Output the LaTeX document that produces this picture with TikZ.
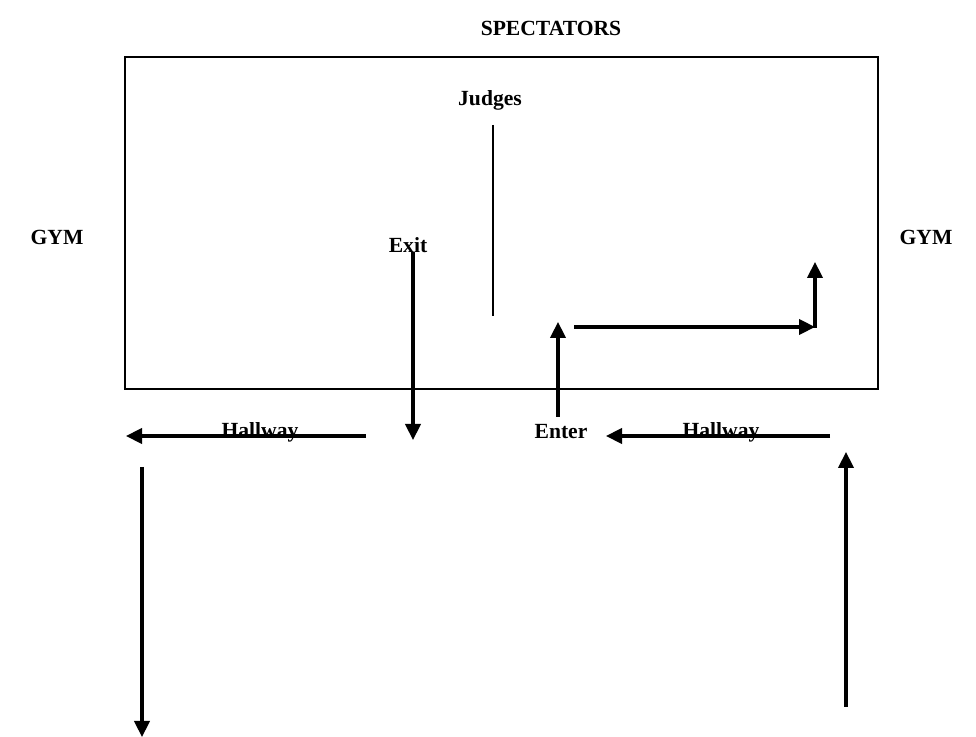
\documentclass[tikz,border=0pt]{standalone}
\usepackage{fontspec}
\setmainfont{Liberation Serif}
\usetikzlibrary{arrows.meta}

\begin{document}
\begin{tikzpicture}[x=0.75pt, y=-0.75pt,
    lbl/.style={inner sep=0pt, anchor=base, font=\fontsize{16.2}{19}\selectfont\bfseries},
    wall/.style={line width=1.3pt},
    arrow/.style={-{Triangle[length=12pt, width=11.5pt]}, line width=2.3pt}]

    \useasboundingbox (0,0) rectangle (976,737);

    % gym floor
    \draw[wall] (125,57) rectangle (878,389);
    \draw[line width=1.2pt] (493,125) -- (493,316);

    % labels
    \node[lbl] (spect) at (551,36) {SPECTATORS};
    \node[lbl] (judges) at (490,106) {Judges};
    \node[lbl] (gymL) at (57,245) {GYM};
    \node[lbl] (gymR) at (926,245) {GYM};
    \node[lbl] (exit) at (408,253) {Exit};
    \node[lbl] (hallL) at (260,438) {Hallway};
    \node[lbl] (enter) at (561,439) {Enter};
    \node[lbl] (hallR) at (721,438) {Hallway};

    % route points
    \coordinate (exitA) at (413,252);
    \coordinate (exitB) at (413,440);
    \coordinate (hallLA) at (366,436);
    \coordinate (hallLB) at (126,436);
    \coordinate (outA) at (142,467);
    \coordinate (outB) at (142,737);
    \coordinate (inA) at (846,707);
    \coordinate (inB) at (846,452);
    \coordinate (hallRA) at (830,436);
    \coordinate (hallRB) at (606,436);
    \coordinate (enterA) at (558,417);
    \coordinate (enterB) at (558,322);
    \coordinate (runA) at (574,327);
    \coordinate (runB) at (815,327);
    \coordinate (turn) at (815,328);
    \coordinate (turnB) at (815,262);

    \draw[arrow] (exitA) -- (exitB);
    \draw[arrow] (hallLA) -- (hallLB);
    \draw[arrow] (outA) -- (outB);
    \draw[arrow] (inA) -- (inB);
    \draw[arrow] (hallRA) -- (hallRB);
    \draw[arrow] (enterA) -- (enterB);
    \draw[arrow] (runA) -- (runB);
    \draw[arrow] (turn) -- (turnB);
\end{tikzpicture}
\end{document}
